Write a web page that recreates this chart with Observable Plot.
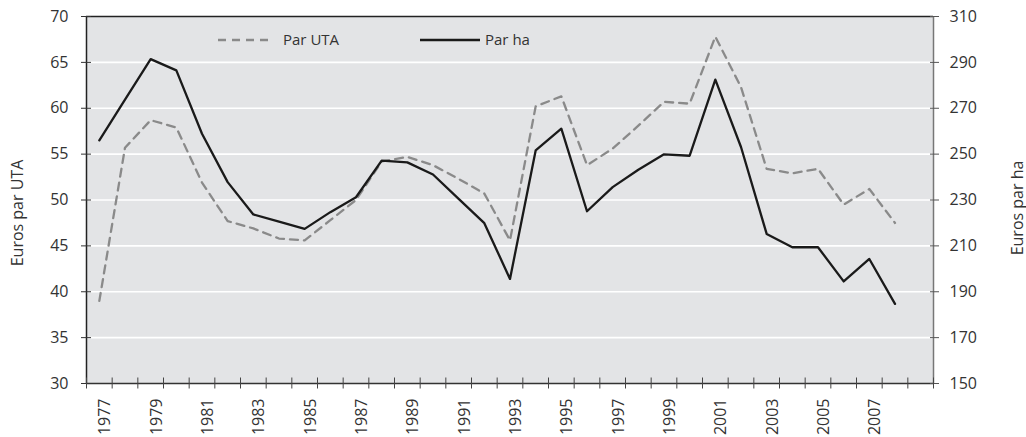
<!DOCTYPE html>
<html>
<head>
<meta charset="utf-8">
<script src="https://cdn.jsdelivr.net/npm/d3@7"></script>
<script src="https://cdn.jsdelivr.net/npm/@observablehq/plot@0.6"></script>
<style>
  html, body { margin: 0; padding: 0; background: #ffffff; }
  #chart { width: 1026px; height: 437px; }
</style>
</head>
<body>
<div id="chart"></div>
<script>
const years = [1977, 1978, 1979, 1980, 1981, 1982, 1983, 1984, 1985, 1986, 1987, 1988, 1989, 1990, 1991, 1992,
               1993, 1994, 1995, 1996, 1997, 1998, 1999, 2000, 2001, 2002, 2003, 2004, 2005, 2006, 2007, 2008];
const parUTA = [39.0, 55.7, 58.7, 57.9, 51.9, 47.7, 46.9, 45.8, 45.6, 47.8, 50.0, 54.2, 54.7, 53.8, 52.3, 50.7,
                45.6, 60.2, 61.3, 53.8, 55.6, 58.1, 60.7, 60.5, 67.8, 62.3, 53.4, 52.9, 53.4, 49.5, 51.2, 47.5];
const parHa = [256.0, 273.8, 291.4, 286.5, 258.9, 237.8, 223.7, 220.6, 217.4, 224.7, 231.2, 247.2, 246.4, 241.1, 230.5, 219.9,
               195.6, 251.6, 261.1, 225.1, 235.6, 243.2, 249.9, 249.3, 282.5, 253.1, 215.2, 209.4, 209.4, 194.5, 204.3, 184.7];
const leftTicks = [30, 35, 40, 45, 50, 55, 60, 65, 70];
const rightTicks = [150, 170, 190, 210, 230, 250, 270, 290, 310];
const xLabelYears = [1977, 1979, 1981, 1983, 1985, 1987, 1989, 1991, 1993, 1995, 1997, 1999, 2001, 2003, 2005, 2007];
const xDomain = [1976.5, 2009.5];
const seriesNames = ["Par UTA", "Par ha"];
const leftTitle = "Euros par UTA";
const rightTitle = "Euros par ha";

// map right-axis values (150..310) onto left-axis scale (30..70)
const toLeft = v => 30 + (v - 150) / 4;
const fromLeft = v => 150 + (v - 30) * 4;

const data = years.map((year, i) => ({year, uta: parUTA[i], ha: parHa[i]}));
const boundaries = d3.range(xDomain[0], xDomain[1] + 0.5, 1);

const FONT = "'Open Sans', 'Noto Sans', sans-serif";
const DASH = "8,6";

const chart = Plot.plot({
  width: 1026,
  height: 437,
  marginLeft: 86,
  marginRight: 93,
  marginTop: 16,
  marginBottom: 54,
  x: {domain: xDomain, axis: null},
  y: {domain: [30, 70], axis: null},
  style: {fontFamily: FONT, fontSize: "15px", color: "#333", background: "#ffffff", overflow: "visible"},
  marks: [
    Plot.frame({fill: "#e3e4e6", stroke: null}),
    Plot.gridY(leftTicks.slice(1, -1), {stroke: "#ffffff", strokeOpacity: 1, strokeWidth: 1.6}),
    Plot.ruleY([70], {stroke: "#222", strokeWidth: 1.5}),
    Plot.ruleX([xDomain[1]], {stroke: "#777", strokeWidth: 1.5}),
    Plot.ruleX([xDomain[0]], {stroke: "#222", strokeWidth: 1.5}),
    Plot.ruleY([30], {stroke: "#333", strokeWidth: 1.5}),
    // left axis
    Plot.axisY(leftTicks, {anchor: "left", tickSize: 10, dx: 5, tickPadding: 13, stroke: "#333",
                           fontSize: 16, label: null}),
    // right axis
    Plot.axisY(rightTicks.map(toLeft), {anchor: "right", tickSize: 9, dx: -4, tickPadding: 11, stroke: "#555",
                           tickFormat: d => String(Math.round(fromLeft(d))), fontSize: 16, label: null}),
    // x ticks at category boundaries
    Plot.axisX(boundaries, {anchor: "bottom", tickSize: 11, dy: -5.5, stroke: "#444", tickFormat: () => "", label: null}),
    // x labels
    Plot.text(xLabelYears, {x: d => d, text: d => String(d), frameAnchor: "bottom", rotate: -90,
                            textAnchor: "end", lineAnchor: "middle", dy: 15, dx: 6, fontSize: 16, fill: "#333"}),
    // axis titles
    Plot.text([leftTitle], {frameAnchor: "left", rotate: -90, textAnchor: "middle", lineAnchor: "middle",
                            dx: -69, dy: 13, fontSize: 16, fill: "#333"}),
    Plot.text([rightTitle], {frameAnchor: "right", rotate: -90, textAnchor: "middle", lineAnchor: "middle",
                             dx: 84, dy: 8, fontSize: 16, fill: "#333"}),
    // series
    Plot.line(data, {x: "year", y: "uta", stroke: "#8a8a8a", strokeWidth: 2.3, strokeDasharray: DASH}),
    Plot.line(data, {x: "year", y: d => toLeft(d.ha), stroke: "#1a1a1a", strokeWidth: 2.3})
  ]
});

document.getElementById("chart").appendChild(chart);

// in-plot legend
const svg = d3.select(chart);
const lg = svg.append("g").attr("font-family", FONT).attr("font-size", 15).attr("fill", "#333")
  .attr("text-anchor", "start");
const items = [
  {name: seriesNames[0], x0: 218, x1: 268, stroke: "#8a8a8a", dash: DASH},
  {name: seriesNames[1], x0: 420, x1: 480, stroke: "#1a1a1a", dash: null}
];
items.forEach(it => {
  lg.append("line").attr("x1", it.x0).attr("x2", it.x1).attr("y1", 40).attr("y2", 40)
    .attr("stroke", it.stroke).attr("stroke-width", 2.3)
    .attr("stroke-dasharray", it.dash);
  lg.append("text").attr("x", it.x1 + (it.dash ? 15 : 5)).attr("y", 40).attr("dy", "0.35em").text(it.name);
});
</script>
</body>
</html>
